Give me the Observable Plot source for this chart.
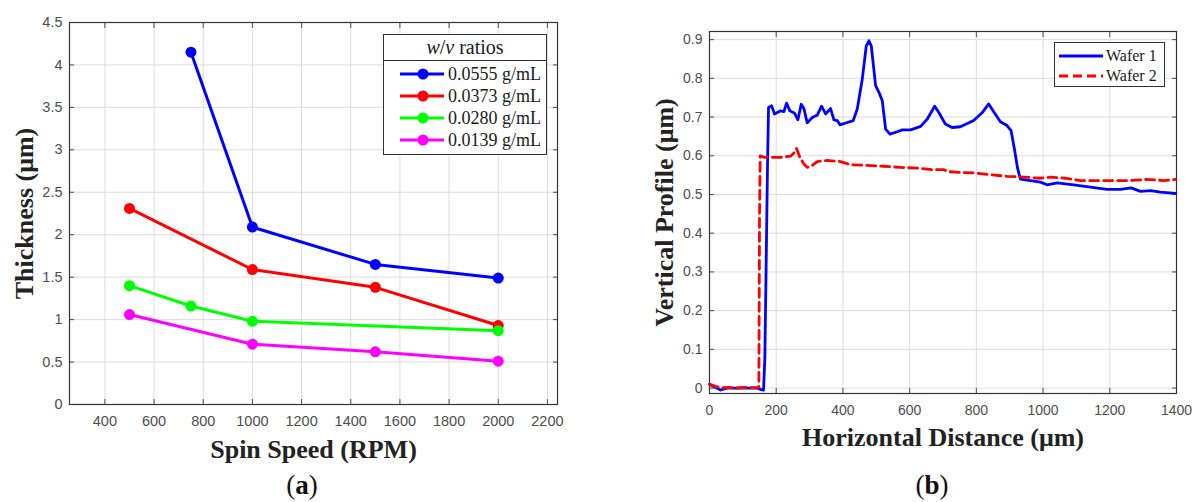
<!DOCTYPE html>
<html><head><meta charset="utf-8">
<script src="https://cdn.jsdelivr.net/npm/d3@7"></script>
<script src="https://cdn.jsdelivr.net/npm/@observablehq/plot@0.6"></script>
<style>
body{margin:0;background:#fff;width:1192px;height:502px;position:relative;overflow:hidden}
#a,#b{position:absolute;top:0}
#a{left:0}#b{left:600px}
.cap{position:absolute;font-family:"Liberation Serif",serif;font-size:27px;color:#111;transform:translate(-50%,-50%);white-space:nowrap}
.leg{position:absolute;background:#fff;border:1.3px solid #333;font-family:"Liberation Serif",serif;color:#1a1a1a;box-sizing:border-box}
.leg .t{height:25px;line-height:25px;text-align:center;font-size:20px;border-bottom:1.3px solid #333}
.leg .r{display:flex;align-items:center;white-space:nowrap}
.leg svg{flex:none;display:block}
</style></head><body>
<div id="a"></div><div id="b"></div>
<div class="cap" style="left:302px;top:485px">(<b>a</b>)</div>
<div class="cap" style="left:932px;top:485px">(<b>b</b>)</div>
<div class="leg" id="legA" style="left:383px;top:34px;width:164px;height:121px"></div>
<div class="leg" id="legB" style="left:1054px;top:42px;width:111px;height:45px;padding-top:3px"></div>
<script>
// ---- Panel (a) data ----
const ratioLabels = ["0.0555 g/mL", "0.0373 g/mL", "0.0280 g/mL", "0.0139 g/mL"];
const ratioColors = ["#0000ff", "#ff0000", "#00ff00", "#ff00ff"];
const speed0555 = [750, 1000, 1500, 2000];
const thick0555 = [4.15, 2.09, 1.65, 1.49];
const speed0373 = [500, 1000, 1500, 2000];
const thick0373 = [2.31, 1.59, 1.38, 0.93];
const speed0280 = [500, 750, 1000, 2000];
const thick0280 = [1.40, 1.16, 0.98, 0.87];
const speed0139 = [500, 1000, 1500, 2000];
const thick0139 = [1.06, 0.71, 0.62, 0.51];
const speedTicks = [400, 600, 800, 1000, 1200, 1400, 1600, 1800, 2000, 2200];
const thickTicks = [0, 0.5, 1, 1.5, 2, 2.5, 3, 3.5, 4, 4.5];

// ---- Panel (b) data ----
const wafer1X = [0,13,33,53,103,143,155,162,166,170,174,177,186,195,213,223,231,241,255,265,275,283,293,308,323,336,348,363,373,383,391,413,431,443,458,470,478,485,498,508,518,528,541,563,578,603,633,653,675,688,707,727,752,792,817,837,852,872,892,904,914,924,932,962,992,1012,1042,1092,1142,1192,1232,1264,1292,1322,1352,1397];
const wafer1Y = [0.010,0.004,-0.005,0.000,0.000,0.000,-0.004,-0.005,0.08,0.33,0.58,0.725,0.729,0.708,0.716,0.714,0.736,0.716,0.710,0.693,0.733,0.722,0.685,0.699,0.705,0.728,0.708,0.722,0.693,0.691,0.680,0.686,0.691,0.721,0.798,0.884,0.897,0.884,0.781,0.764,0.742,0.669,0.656,0.662,0.667,0.667,0.676,0.695,0.728,0.711,0.682,0.673,0.675,0.691,0.711,0.734,0.714,0.688,0.678,0.665,0.618,0.566,0.540,0.536,0.532,0.525,0.530,0.525,0.519,0.513,0.513,0.517,0.508,0.510,0.506,0.503];
const wafer2X = [0,20,40,60,80,100,120,140,148,150,152,163,213,243,253,261,271,283,293,308,323,353,393,423,473,522,573,623,672,702,717,752,792,842,892,942,992,1022,1067,1112,1162,1212,1262,1312,1362,1397];
const wafer2Y = [0.010,0.004,0.001,0.002,0.000,0.002,0.001,0.001,0.002,0.45,0.600,0.596,0.596,0.599,0.607,0.619,0.596,0.579,0.570,0.575,0.585,0.588,0.585,0.577,0.575,0.573,0.570,0.568,0.564,0.564,0.559,0.557,0.556,0.551,0.547,0.545,0.542,0.545,0.542,0.536,0.536,0.536,0.536,0.539,0.536,0.539];
const distTicks = [0, 200, 400, 600, 800, 1000, 1200, 1400];
const profTicks = [0, 0.1, 0.2, 0.3, 0.4, 0.5, 0.6, 0.7, 0.8, 0.9];
const waferLabels = ["Wafer 1", "Wafer 2"];

const seriesA = [[speed0555, thick0555], [speed0373, thick0373], [speed0280, thick0280], [speed0139, thick0139]];
const rowsA = seriesA.flatMap(([xs, ys], i) => xs.map((x, j) => ({s: ratioLabels[i], x, y: ys[j]})));
const rowsW1 = wafer1X.map((x, i) => ({x, y: wafer1Y[i]}));
const rowsW2 = wafer2X.map((x, i) => ({x, y: wafer2Y[i]}));

const tickColor = "#4d4d4d", gridColor = "#dcdcdc", frameColor = "#333";
const serifBold = {fontSize: 26, fontWeight: "bold", fontFamily: "Liberation Serif, serif", fill: "#222", textAnchor: "middle", lineAnchor: "middle"};

const A = Plot.plot({
  width: 600, height: 470, marginLeft: 69, marginRight: 43, marginTop: 22, marginBottom: 66,
  x: {domain: [256, 2241]}, y: {domain: [0, 4.5]},
  color: {domain: ratioLabels, range: ratioColors},
  style: {fontFamily: "Liberation Sans, Arial, sans-serif", background: "transparent", overflow: "visible"},
  marks: [
    Plot.gridX({ticks: speedTicks, stroke: gridColor, strokeOpacity: 1}),
    Plot.gridY({ticks: thickTicks, stroke: gridColor, strokeOpacity: 1}),
    Plot.axisX({ticks: speedTicks, anchor: "bottom", tickSize: -5, tickPadding: 16.5, fontSize: 14.5, color: tickColor, label: null, tickFormat: d => String(d)}),
    Plot.axisX({ticks: speedTicks, anchor: "top", tickSize: -5, color: tickColor, label: null, tickFormat: () => ""}),
    Plot.axisY({ticks: thickTicks, anchor: "left", tickSize: -5, tickPadding: 12, fontSize: 14.5, color: tickColor, label: null, tickFormat: d => String(d)}),
    Plot.axisY({ticks: thickTicks, anchor: "right", tickSize: -5, color: tickColor, label: null, tickFormat: () => ""}),
    Plot.frame({stroke: frameColor, strokeWidth: 1.2}),
    Plot.line(rowsA, {x: "x", y: "y", z: "s", stroke: "s", strokeWidth: 3}),
    Plot.dot(rowsA, {x: "x", y: "y", fill: "s", r: 5.5}),
    Plot.text(["Thickness (μm)"], {frameAnchor: "left", dx: -45, rotate: -90, ...serifBold}),
    Plot.text(["Spin Speed (RPM)"], {frameAnchor: "bottom", dy: 45, ...serifBold})
  ]
});
document.getElementById("a").append(A);

const B = Plot.plot({
  width: 592, height: 470, marginLeft: 109, marginRight: 16, marginTop: 31, marginBottom: 77,
  x: {domain: [0, 1400]}, y: {domain: [-0.014, 0.921]},
  style: {fontFamily: "Liberation Sans, Arial, sans-serif", background: "transparent", overflow: "visible"},
  marks: [
    Plot.gridX({ticks: distTicks, stroke: gridColor, strokeOpacity: 1}),
    Plot.gridY({ticks: profTicks, stroke: gridColor, strokeOpacity: 1}),
    Plot.axisX({ticks: distTicks, anchor: "bottom", tickSize: -5, tickPadding: 17, fontSize: 14, color: tickColor, label: null, tickFormat: d => String(d)}),
    Plot.axisX({ticks: distTicks, anchor: "top", tickSize: -5, color: tickColor, label: null, tickFormat: () => ""}),
    Plot.axisY({ticks: profTicks, anchor: "left", tickSize: -5, tickPadding: 12, fontSize: 14, color: tickColor, label: null, tickFormat: d => String(d)}),
    Plot.axisY({ticks: profTicks, anchor: "right", tickSize: -5, color: tickColor, label: null, tickFormat: () => ""}),
    Plot.frame({stroke: frameColor, strokeWidth: 1.2}),
    Plot.line(rowsW1, {x: "x", y: "y", stroke: "#0000ff", strokeWidth: 2.8}),
    Plot.line(rowsW2, {x: "x", y: "y", stroke: "#ff0000", strokeWidth: 2.8, strokeDasharray: "9,5"}),
    Plot.text(["Vertical Profile (μm)"], {frameAnchor: "left", dx: -45, rotate: -90, ...serifBold}),
    Plot.text(["Horizontal Distance (μm)"], {frameAnchor: "bottom", dy: 44, ...serifBold})
  ]
});
document.getElementById("b").append(B);

// ---- Legends ----
const legA = document.getElementById("legA");
legA.innerHTML = `<div class="t"><i>w</i>/<i>v</i> ratios</div><div style="padding-top:2px">` +
  ratioLabels.map((l, i) => `<div class="r" style="height:22px;font-size:18px"><svg width="62" height="22"><line x1="16" x2="60" y1="11" y2="11" stroke="${ratioColors[i]}" stroke-width="3"/><circle cx="39" cy="11" r="5.5" fill="${ratioColors[i]}"/></svg><span style="margin-left:2px">${l}</span></div>`).join("") + `</div>`;
const legB = document.getElementById("legB");
const wStyles = [["#0000ff", ""], ["#ff0000", "9,5"]];
legB.innerHTML = waferLabels.map((l, i) => `<div class="r" style="height:20px;font-size:16px"><svg width="50" height="20"><line x1="4" x2="48" y1="10" y2="10" stroke="${wStyles[i][0]}" stroke-width="2.8" stroke-dasharray="${wStyles[i][1]}"/></svg><span style="margin-left:1px">${l}</span></div>`).join("");
</script>
</body></html>
